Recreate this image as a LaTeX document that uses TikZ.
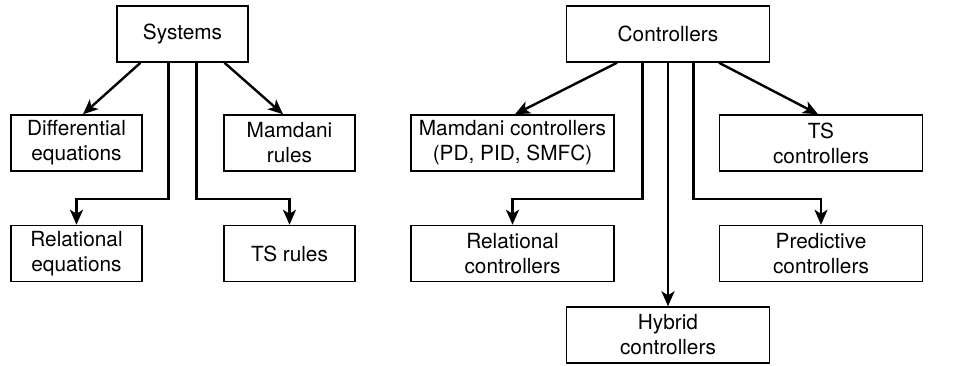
\documentclass[tikz,border=0pt]{standalone}
\usepackage{fontspec}
\setmainfont{TeX Gyre Heros}
\usetikzlibrary{arrows.meta}

\begin{document}
\begin{tikzpicture}[x=0.5pt, y=-0.5pt,
    box/.style={draw, line width=0.75pt, align=center, inner sep=0pt,
        minimum height=28pt, font=\fontsize{10.4}{12.5}\selectfont},
    smallbox/.style={box, minimum width=65.5pt},
    widebox/.style={box, minimum width=101.5pt},
    arr/.style={line width=1.2pt, -{Stealth[length=7.5pt, width=6.5pt, inset=2pt]}}]

    \useasboundingbox (0,0) rectangle (960,365);

    % Systems
    \node[smallbox] (systems) at (182.5,34) {Systems};
    \node[smallbox] (diffeq) at (76.5,143) {Differential\\equations};
    \node[smallbox] (mamrules) at (289.5,143) {Mamdani\\rules};
    \node[smallbox] (releq) at (76.5,253.5) {Relational\\equations};
    \node[smallbox] (tsrules) at (289.5,253.5) {TS rules};

    \draw[arr] ([xshift=-21pt]systems.south) -- ([xshift=3.25pt]diffeq.north);
    \draw[arr] ([xshift=21pt]systems.south) -- ([xshift=-3.25pt]mamrules.north);
    \draw[arr] ([xshift=-7pt]systems.south) -- ++(0,136) -| (releq.north);
    \draw[arr] ([xshift=7pt]systems.south) -- ++(0,136) -| (tsrules.north);

    % Controllers
    \node[widebox] (controllers) at (668,34) {Controllers};
    \node[widebox] (mamctrl) at (512.5,143) {Mamdani controllers\\(PD, PID, SMFC)};
    \node[widebox] (tsctrl) at (821,143) {TS\\controllers};
    \node[widebox] (relctrl) at (512.5,253.5) {Relational\\controllers};
    \node[widebox] (predctrl) at (821,253.5) {Predictive\\controllers};
    \node[widebox] (hybctrl) at (668,335) {Hybrid\\controllers};

    \draw[arr] ([xshift=-25.5pt]controllers.south) -- ([xshift=1.25pt]mamctrl.north);
    \draw[arr] ([xshift=25.5pt]controllers.south) -- ([xshift=-1.5pt]tsctrl.north);
    \draw[arr] ([xshift=-12.75pt]controllers.south) -- ++(0,136) -| (relctrl.north);
    \draw[arr] ([xshift=12.75pt]controllers.south) -- ++(0,136) -| (predctrl.north);
    \draw[arr] (controllers.south) -- (hybctrl.north);

\end{tikzpicture}
\end{document}
